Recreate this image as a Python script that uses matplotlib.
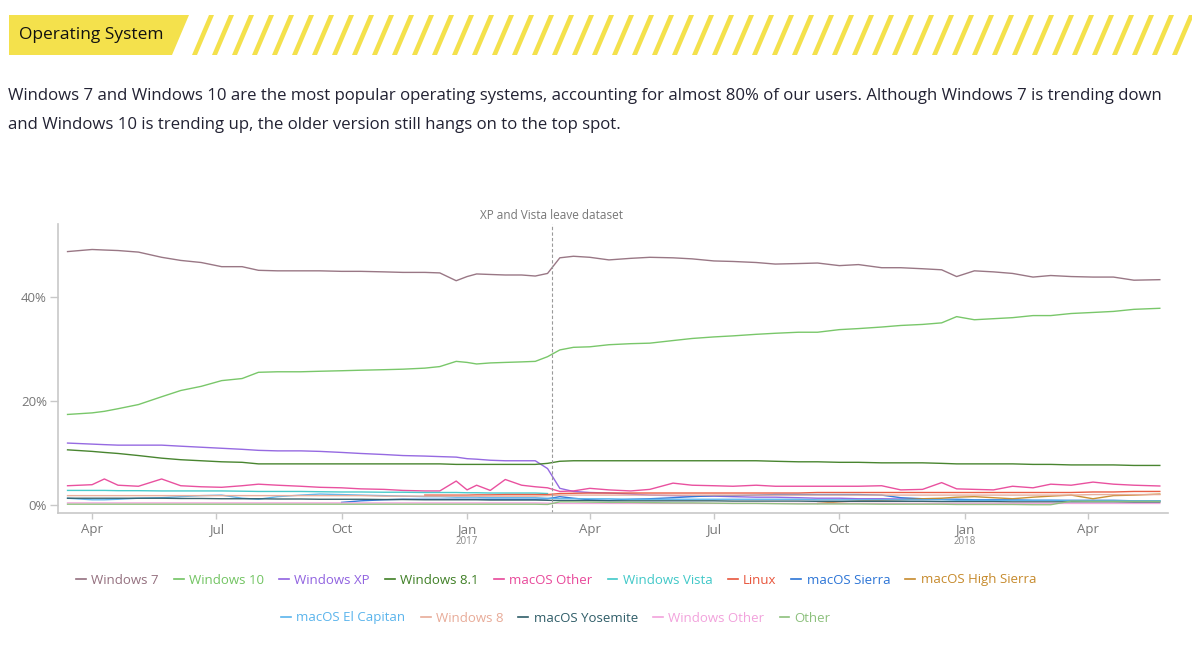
import numpy as np
import pandas as pd
import matplotlib
matplotlib.use("Agg")
import matplotlib.pyplot as plt
from matplotlib.patches import Polygon
from matplotlib.lines import Line2D

plt.rcParams["font.family"] = ["Open Sans", "DejaVu Sans"]

nan = np.nan

# sample dates (roughly every two weeks, plus a few extra around spikes)
dates = [
    "2016-03-14", "2016-04-01", "2016-04-10", "2016-04-20", "2016-05-05", "2016-05-22",
    "2016-06-05", "2016-06-20", "2016-07-05", "2016-07-20", "2016-08-01", "2016-08-15",
    "2016-09-01", "2016-09-15", "2016-10-01", "2016-10-15", "2016-11-01", "2016-11-15",
    "2016-12-01", "2016-12-12", "2016-12-24", "2017-01-01", "2017-01-08", "2017-01-18",
    "2017-01-29", "2017-02-10", "2017-02-20", "2017-03-01", "2017-03-10", "2017-03-20",
    "2017-04-01", "2017-04-15", "2017-05-01", "2017-05-15", "2017-06-01", "2017-06-15",
    "2017-07-01", "2017-07-15", "2017-08-01", "2017-08-15", "2017-09-01", "2017-09-15",
    "2017-10-01", "2017-10-15", "2017-11-01", "2017-11-15", "2017-12-01", "2017-12-15",
    "2017-12-26", "2018-01-08", "2018-01-22", "2018-02-05", "2018-02-20", "2018-03-05",
    "2018-03-20", "2018-04-05", "2018-04-20", "2018-05-05", "2018-05-24",
]

win7 = [48.7, 49.1, 49.0, 48.9, 48.6, 47.6, 47.0, 46.6, 45.8, 45.8,
        45.1, 45.0, 45.0, 45.0, 44.9, 44.9, 44.8, 44.7, 44.7, 44.6,
        43.1, 43.9, 44.4, 44.3, 44.2, 44.2, 44.0, 44.5, 47.5, 47.8,
        47.6, 47.1, 47.4, 47.6, 47.5, 47.3, 46.9, 46.8, 46.6, 46.3,
        46.4, 46.5, 46.0, 46.2, 45.6, 45.6, 45.4, 45.2, 43.9, 45.0,
        44.8, 44.5, 43.8, 44.1, 43.9, 43.8, 43.8, 43.2, 43.3]
win10 = [17.4, 17.7, 18.0, 18.5, 19.3, 20.8, 22.0, 22.8, 23.9, 24.3,
         25.5, 25.6, 25.6, 25.7, 25.8, 25.9, 26.0, 26.1, 26.3, 26.6,
         27.6, 27.4, 27.1, 27.3, 27.4, 27.5, 27.6, 28.5, 29.8, 30.3,
         30.4, 30.8, 31.0, 31.1, 31.6, 32.0, 32.3, 32.5, 32.8, 33.0,
         33.2, 33.2, 33.7, 33.9, 34.2, 34.5, 34.7, 35.0, 36.2, 35.6,
         35.8, 36.0, 36.4, 36.4, 36.8, 37.0, 37.2, 37.6, 37.8]
winxp = [11.9, 11.7, 11.6, 11.5, 11.5, 11.5, 11.3, 11.1, 10.9, 10.7,
         10.5, 10.4, 10.4, 10.3, 10.1, 9.9, 9.7, 9.5, 9.4, 9.3,
         9.2, 8.9, 8.8, 8.6, 8.5, 8.5, 8.5, 7.0, 3.2, 2.6,
         2.4, 2.3, 2.1, 1.9, 1.8, 1.7, 1.7, 1.6, 1.5, 1.5,
         1.4, 1.3, 1.3, 1.2, 1.2, 1.15, 1.1, 1.1, nan, nan,
         nan, nan, nan, nan, nan, nan, nan, nan, nan]
win81 = [10.6, 10.3, 10.1, 9.9, 9.5, 9.0, 8.7, 8.5, 8.3, 8.2,
         7.9, 7.9, 7.9, 7.9, 7.9, 7.9, 7.9, 7.9, 7.9, 7.9,
         7.8, 7.8, 7.8, 7.8, 7.8, 7.8, 7.8, 8.0, 8.4, 8.5,
         8.5, 8.5, 8.5, 8.5, 8.5, 8.5, 8.5, 8.5, 8.5, 8.4,
         8.3, 8.3, 8.2, 8.2, 8.1, 8.1, 8.1, 8.0, 7.9, 7.9,
         7.9, 7.9, 7.8, 7.8, 7.7, 7.7, 7.7, 7.6, 7.6]
mac_other = [3.7, 3.9, 5.0, 3.8, 3.6, 5.0, 3.7, 3.5, 3.4, 3.7,
             4.0, 3.8, 3.6, 3.4, 3.3, 3.1, 3.0, 2.8, 2.7, 2.7,
             4.6, 2.9, 3.8, 2.8, 4.9, 3.8, 3.5, 3.3, 2.6, 2.7,
             3.2, 2.9, 2.7, 3.0, 4.2, 3.8, 3.7, 3.6, 3.8, 3.6,
             3.6, 3.6, 3.6, 3.6, 3.7, 2.9, 3.0, 4.3, 3.1, 3.0,
             2.9, 3.6, 3.3, 4.0, 3.8, 4.4, 4.0, 3.8, 3.65]
vista = [2.8, 2.8, 2.8, 2.75, 2.75, 2.7, 2.7, 2.7, 2.7, 2.65,
         2.6, 2.6, 2.6, 2.55, 2.5, 2.5, 2.45, 2.45, 2.4, 2.4,
         2.4, 2.35, 2.35, 2.3, 2.3, 2.3, 2.3, 2.2, nan, nan,
         nan, nan, nan, nan, nan, nan, nan, nan, nan, nan,
         nan, nan, nan, nan, nan, nan, nan, nan, nan, nan,
         nan, nan, nan, nan, nan, nan, nan, nan, nan]
linux = [nan, nan, nan, nan, nan, nan, nan, nan, nan, nan,
         nan, nan, nan, nan, nan, nan, nan, nan, 1.9, 1.9,
         1.9, 1.9, 1.95, 1.95, 2.0, 2.0, 2.0, 2.0, 2.2, 2.25,
         2.3, 2.3, 2.3, 2.3, 2.3, 2.3, 2.3, 2.3, 2.3, 2.3,
         2.3, 2.4, 2.4, 2.4, 2.4, 2.4, 2.4, 2.4, 2.4, 2.4,
         2.4, 2.4, 2.4, 2.4, 2.4, 2.5, 2.5, 2.6, 2.6]
sierra = [nan, nan, nan, nan, nan, nan, nan, nan, nan, nan,
          nan, nan, nan, nan, 0.5, 0.8, 1.0, 1.1, 1.1, 1.1,
          1.1, 1.1, 1.1, 1.1, 1.1, 1.1, 1.1, 1.2, 1.6, 1.3,
          1.0, 0.9, 1.1, 1.2, 1.4, 1.6, 1.8, 1.8, 1.9, 2.0,
          2.0, 2.0, 2.0, 2.0, 1.9, 1.4, 1.2, 1.1, 1.1, 1.0,
          1.0, 1.0, 0.9, 0.9, 0.9, 0.9, 0.9, 0.8, 0.8]
high_sierra = [nan, nan, nan, nan, nan, nan, nan, nan, nan, nan,
               nan, nan, nan, nan, nan, nan, nan, nan, nan, nan,
               nan, nan, nan, nan, nan, nan, nan, nan, nan, nan,
               nan, nan, nan, nan, nan, nan, nan, nan, nan, nan,
               nan, 0.3, 0.6, 0.8, 0.9, 1.0, 1.2, 1.3, 1.5, 1.6,
               1.4, 1.2, 1.5, 1.7, 1.9, 1.2, 1.8, 1.9, 2.1]
el_capitan = [1.3, 1.0, 1.0, 1.1, 1.3, 1.4, 1.6, 1.8, 1.9, 1.3,
              1.1, 1.6, 1.9, 2.1, 2.0, 1.9, 1.8, 1.7, 1.6, 1.6,
              1.5, 1.5, 1.5, 1.4, 1.4, 1.4, 1.4, 1.3, 1.2, 1.2,
              1.2, 1.2, 1.1, 1.1, 1.1, 1.1, 1.1, 1.1, 1.1, 1.1,
              1.1, 1.0, 1.0, 1.0, 1.0, 1.0, 1.0, 1.0, 0.9, 0.9,
              0.9, 0.9, 0.9, 0.9, 0.8, 0.8, 0.8, 0.8, 0.8]
win8 = [1.8, 1.8, 1.8, 1.8, 1.8, 1.8, 1.8, 1.8, 1.8, 1.8,
        1.8, 1.8, 1.8, 1.8, 1.8, 1.8, 1.7, 1.7, 1.7, 1.7,
        1.7, 1.7, 1.7, 1.7, 1.7, 1.7, 1.7, 1.8, 1.9, 1.9,
        1.9, 1.9, 1.9, 1.9, 1.9, 1.9, 1.9, 1.9, 1.9, 1.9,
        1.9, 1.9, 1.9, 1.9, 1.9, 1.9, 1.9, 1.9, 1.9, 1.9,
        1.9, 1.9, 1.9, 1.9, 1.9, 2.0, 2.0, 2.0, 2.0]
yosemite = [1.3, 1.3, 1.3, 1.3, 1.3, 1.3, 1.25, 1.25, 1.2, 1.2,
            1.2, 1.15, 1.15, 1.1, 1.1, 1.1, 1.05, 1.05, 1.0, 1.0,
            1.0, 1.0, 1.0, 0.95, 0.95, 0.95, 0.95, 0.9, 0.85, 0.85,
            0.85, 0.8, 0.8, 0.8, 0.8, 0.8, 0.8, 0.75, 0.75, 0.75,
            0.75, 0.7, 0.7, 0.7, 0.7, 0.7, 0.7, 0.65, 0.65, 0.65,
            0.65, 0.6, 0.6, 0.6, 0.6, 0.6, 0.6, 0.55, 0.55]
win_other = [0.4, 0.4, 0.4, 0.4, 0.4, 0.4, 0.4, 0.4, 0.4, 0.4,
             0.4, 0.4, 0.4, 0.4, 0.4, 0.4, 0.4, 0.4, 0.4, 0.4,
             0.4, 0.4, 0.4, 0.4, 0.4, 0.4, 0.4, 0.35, 0.3, 0.3,
             0.3, 0.3, 0.3, 0.3, 0.3, 0.3, 0.3, 0.3, 0.3, 0.3,
             0.3, 0.3, 0.3, 0.3, 0.3, 0.3, 0.3, 0.3, 0.3, 0.3,
             0.3, 0.3, 0.3, 0.3, 0.3, 0.3, 0.3, 0.3, 0.3]
other = [0.15, 0.15, 0.15, 0.15, 0.15, 0.15, 0.15, 0.15, 0.15, 0.15,
         0.15, 0.15, 0.15, 0.15, 0.15, 0.15, 0.15, 0.15, 0.15, 0.15,
         0.15, 0.15, 0.15, 0.15, 0.15, 0.15, 0.15, 0.1, 0.6, 0.6,
         0.55, 0.5, 0.5, 0.45, 0.4, 0.4, 0.35, 0.3, 0.3, 0.25,
         0.2, 0.2, 0.2, 0.2, 0.15, 0.15, 0.15, 0.15, 0.1, 0.1,
         0.1, 0.1, 0.05, 0.05, 0.75, 0.7, 0.7, 0.7, 0.7]

labels = ["Windows 7", "Windows 10", "Windows XP", "Windows 8.1", "macOS Other",
          "Windows Vista", "Linux", "macOS Sierra", "macOS High Sierra",
          "macOS El Capitan", "Windows 8", "macOS Yosemite", "Windows Other", "Other"]
values = [win7, win10, winxp, win81, mac_other, vista, linux, sierra, high_sierra,
          el_capitan, win8, yosemite, win_other, other]
colors = ["#94707f", "#72c462", "#9062e0", "#3f7f25", "#e8489a", "#40c8c8", "#e8553c",
          "#2b74d6", "#c68a2c", "#5ab4ec", "#e8ab98", "#2f5d68", "#f2a2dc", "#8cc07c"]

tick_dates = ["2016-04-01", "2016-07-01", "2016-10-01", "2017-01-01", "2017-04-01",
              "2017-07-01", "2017-10-01", "2018-01-01", "2018-04-01"]
tick_labels = ["Apr", "Jul", "Oct", "Jan", "Apr", "Jul", "Oct", "Jan", "Apr"]
year_labels = {"2017-01-01": "2017", "2018-01-01": "2018"}
y_ticks = [0, 20, 40]

W, H = 1192, 650
fig = plt.figure(figsize=(W / 100, H / 100), dpi=100)
fig.patch.set_facecolor("white")


def fx(x):
    return x / W


def fy(y):
    return 1 - y / H


# header bar with diagonal stripes
yellow = "#f4e14c"
fig.add_artist(Polygon([(fx(9), fy(15)), (fx(189), fy(15)), (fx(172), fy(55)), (fx(9), fy(55))],
                       closed=True, transform=fig.transFigure, facecolor=yellow, edgecolor="none"))
for x0 in range(192, 1176, 20):
    fig.add_artist(Polygon([(fx(x0), fy(55)), (fx(x0 + 5), fy(55)), (fx(x0 + 22), fy(15)), (fx(x0 + 17), fy(15))],
                           closed=True, transform=fig.transFigure, facecolor=yellow, edgecolor="none"))
fig.text(fx(19), fy(35), "Operating System", fontsize=12.5, va="center", ha="left", color="#111111")

fig.text(fx(8), fy(96), "Windows 7 and Windows 10 are the most popular operating systems, accounting for almost 80% "
         "of our users. Although Windows 7 is trending down", fontsize=12.05, va="center", color="#222233")
fig.text(fx(8), fy(125), "and Windows 10 is trending up, the older version still hangs on to the top spot.",
         fontsize=12.05, va="center", color="#222233")

# chart
ax = fig.add_axes([fx(58), fy(513), (1168 - 58) / W, (513 - 224) / H])
x = pd.to_datetime(dates)
for lab, vals, col in zip(labels, values, colors):
    ax.plot(x, vals, color=col, lw=1.0, alpha=0.95, label=lab)

ax.set_xlim(pd.Timestamp("2016-03-07"), pd.Timestamp("2018-05-30"))
ax.set_ylim(-1.54, 54)

ax.set_xticks(pd.to_datetime(tick_dates))
ax.set_xticklabels(tick_labels)
ax.set_yticks(y_ticks)
ax.set_yticklabels([f"{v}%" for v in y_ticks])
for d, yr in year_labels.items():
    ax.text(pd.Timestamp(d), -0.097, yr, transform=ax.get_xaxis_transform(),
            ha="center", va="center", fontsize=7, color="#888888")

for s in ["top", "right"]:
    ax.spines[s].set_visible(False)
for s in ["left", "bottom"]:
    ax.spines[s].set_color("#c8c8c8")
    ax.spines[s].set_linewidth(1.2)
ax.tick_params(axis="x", length=4, width=1, color="#c8c8c8", labelcolor="#777777", labelsize=9.5, pad=3)
ax.tick_params(axis="y", length=6, width=1, color="#c8c8c8", labelcolor="#777777", labelsize=9.5, pad=2)

# event marker
event = pd.Timestamp("2017-03-04")
ax.axvline(event, color="#9a9a9a", lw=0.8, ls=(0, (3, 2)))
ax.text(event, 1.028, "XP and Vista leave dataset", transform=ax.get_xaxis_transform(),
        ha="center", va="center", fontsize=8.5, color="#777777")

# legend in two rows
handles = [Line2D([], [], color=c, lw=1.2) for c in colors]
leg_kw = dict(loc="center", frameon=False, fontsize=9.5, handlelength=0.75, handletextpad=0.4,
              columnspacing=1.15, labelcolor="linecolor")
fig.legend(handles[:9], labels[:9], ncol=9, bbox_to_anchor=(fx(556), fy(580)), **leg_kw)
fig.legend(handles[9:], labels[9:], ncol=5, bbox_to_anchor=(fx(556), fy(618)), **leg_kw)

fig.savefig("out.png", dpi=100, facecolor="white")
